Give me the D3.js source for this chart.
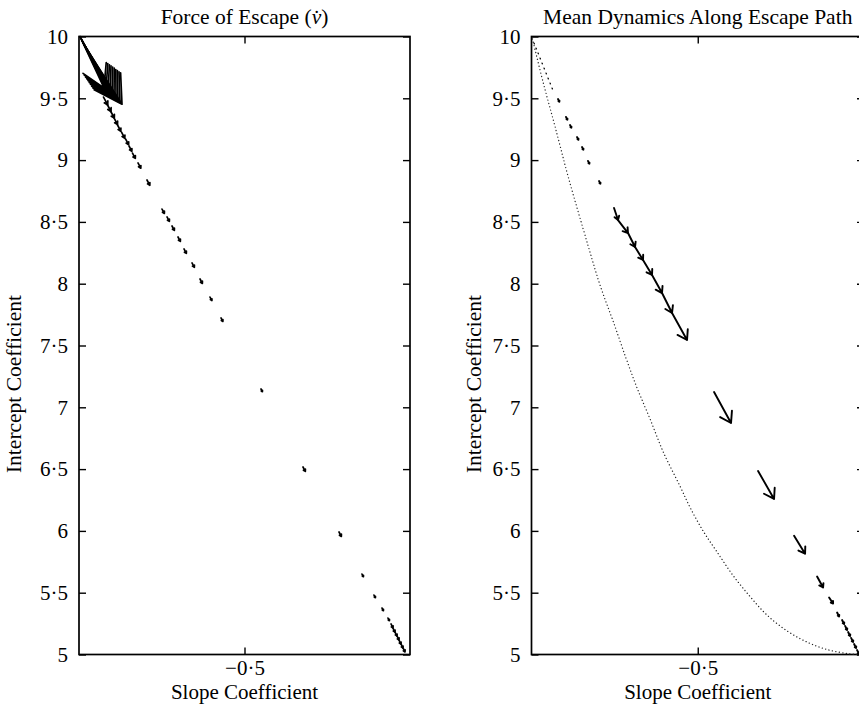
<!DOCTYPE html>
<html>
<head>
<meta charset="utf-8">
<script src="https://cdn.jsdelivr.net/npm/d3@7"></script>
<style>
  html, body { margin: 0; padding: 0; background: #fff; }
  svg { display: block; font-family: "Liberation Serif", "Times New Roman", serif; }
</style>
</head>
<body>
<svg id="chart" width="859" height="704"></svg>
<script>
// ---- axes ----
const slopeDomain = [-1, 0];
const interceptDomain = [5, 10];
const slopeTicks = [-0.5];
const interceptTicks = [5, 5.5, 6, 6.5, 7, 7.5, 8, 8.5, 9, 9.5, 10];

// ---- Force of escape (v-dot): arrow bases on the escape path and force vectors ----
const forceSlope = [
  -0.9970, -0.9955, -0.9940, -0.9925, -0.9909, -0.9894, -0.9879, -0.9864, -0.9849, -0.9834,
  -0.9260, -0.9154, -0.9048, -0.8943, -0.8837, -0.8716, -0.8595, -0.8489, -0.8384,
  -0.8218, -0.7946, -0.7492, -0.7341, -0.7190, -0.7009, -0.6828, -0.6586, -0.6344,
  -0.6042, -0.5710, -0.4502, -0.3233, -0.2145, -0.1450, -0.1088, -0.0846, -0.0665,
  -0.0574, -0.0514, -0.0453, -0.0393, -0.0332, -0.0272, -0.0211
];
const forceIntercept = [
  10.000, 9.992, 9.984, 9.976, 9.968, 9.960, 9.951, 9.943, 9.935, 9.927,
  9.510, 9.454, 9.397, 9.341, 9.284, 9.227, 9.171, 9.114, 9.057,
  8.977, 8.839, 8.604, 8.540, 8.467, 8.378, 8.281, 8.168, 8.038,
  7.892, 7.723, 7.148, 6.517, 5.991, 5.651, 5.481, 5.376, 5.295,
  5.247, 5.214, 5.182, 5.150, 5.117, 5.085, 5.053
];
const forceDSlope = [
  0.0725, 0.0770, 0.0816, 0.0861, 0.0906, 0.0952, 0.0997, 0.1042, 0.1088, 0.1133,
  0.0127, 0.0121, 0.0115, 0.0106, 0.0100, 0.0100, 0.0094, 0.0085, 0.0085,
  0.0085, 0.0085, 0.0071, 0.0071, 0.0071, 0.0071, 0.0071, 0.0071, 0.0071,
  0.0057, 0.0057, 0.0043, 0.0071, 0.0071, 0.0043, 0.0043, 0.0043, 0.0043,
  0.0060, 0.0060, 0.0060, 0.0060, 0.0060, 0.0060, 0.0060
];
const forceDIntercept = [
  -0.4167, -0.4231, -0.4296, -0.4361, -0.4426, -0.4490, -0.4555, -0.4620, -0.4684, -0.4749,
  -0.0639, -0.0607, -0.0566, -0.0534, -0.0502, -0.0502, -0.0461, -0.0429, -0.0429,
  -0.0427, -0.0427, -0.0356, -0.0356, -0.0356, -0.0356, -0.0356, -0.0356, -0.0356,
  -0.0285, -0.0285, -0.0214, -0.0356, -0.0356, -0.0214, -0.0214, -0.0214, -0.0214,
  -0.0324, -0.0324, -0.0324, -0.0324, -0.0324, -0.0324, -0.0324
];

// ---- Mean dynamics along the escape path ----
const meanSlope = [
  -0.9925, -0.9865, -0.9804, -0.9744, -0.9684, -0.9624, -0.9564, -0.9504, -0.9443, -0.9383,
  -0.9203, -0.8962, -0.8842, -0.8631, -0.8481, -0.8300, -0.7969,
  -0.7518, -0.7398, -0.7097, -0.6886, -0.6646, -0.6375, -0.6074, -0.5773,
  -0.4510, -0.3186, -0.2103, -0.1411, -0.1050, -0.0809,
  -0.0659, -0.0568, -0.0478, -0.0388, -0.0298, -0.0208
];
const meanIntercept = [
  9.947, 9.907, 9.867, 9.826, 9.786, 9.745, 9.705, 9.664, 9.624, 9.583,
  9.494, 9.349, 9.284, 9.186, 9.106, 8.993, 8.831,
  8.613, 8.515, 8.410, 8.297, 8.192, 8.070, 7.925, 7.763,
  7.124, 6.485, 5.961, 5.631, 5.461, 5.340,
  5.279, 5.231, 5.182, 5.134, 5.085, 5.036
];
const meanDSlope = [
  0.0012, 0.0012, 0.0012, 0.0012, 0.0012, 0.0012, 0.0012, 0.0012, 0.0012, 0.0012,
  0.0041, 0.0041, 0.0041, 0.0041, 0.0041, 0.0041, 0.0041,
  0.0120, 0.0301, 0.0211, 0.0241, 0.0271, 0.0301, 0.0301, 0.0451,
  0.0511, 0.0481, 0.0331, 0.0181, 0.0120, 0.0060,
  0.0060, 0.0060, 0.0060, 0.0060, 0.0060, 0.0060
];
const meanDIntercept = [
  -0.0074, -0.0074, -0.0074, -0.0074, -0.0074, -0.0074, -0.0074, -0.0074, -0.0074, -0.0074,
  -0.0216, -0.0216, -0.0216, -0.0216, -0.0216, -0.0216, -0.0216,
  -0.0971, -0.1052, -0.1133, -0.1052, -0.1214, -0.1456, -0.1618, -0.2184,
  -0.2508, -0.2265, -0.1456, -0.0890, -0.0485, -0.0324,
  -0.0324, -0.0324, -0.0324, -0.0324, -0.0324, -0.0324
];

// ---- Mean dynamics trajectory from the starting belief (dotted curve) ----
const trajSlope = [
  -0.997, -0.965, -0.929, -0.887, -0.830, -0.794, -0.755, -0.716, -0.683, -0.644,
  -0.604, -0.553, -0.523, -0.484, -0.442, -0.394, -0.343, -0.292, -0.231, -0.171,
  -0.111, -0.042, -0.021
];
const trajIntercept = [
  9.98, 9.63, 9.27, 8.84, 8.31, 7.99, 7.70, 7.40, 7.16, 6.91,
  6.64, 6.36, 6.19, 6.00, 5.83, 5.64, 5.47, 5.32, 5.19, 5.10,
  5.04, 5.005, 5.00
];

// ---- layout ----
const svg = d3.select("#chart");
const yTop = 36.5, yBottom = 654.5;
const FONT = "'Liberation Serif', 'Times New Roman', serif";
const panels = [
  { x0: 79, x1: 410, labelOffset: 58, headRatio: 0.45, headAngle: 30, width: 1.7 },
  { x0: 531.5, x1: 864, labelOffset: 51, headRatio: 0.35, headAngle: 33, width: 1.9 }
];

function fmt(d) {
  const s = Number.isInteger(d) ? String(Math.abs(d)) : String(Math.abs(d)).replace(".", "\u00B7");
  return d < 0 ? "\u2212" + s : s;
}

function arrowPath(x, y, bx, by, dx, dy, ratio, angleDeg) {
  const p0 = [x(bx), y(by)];
  const p1 = [x(bx + dx), y(by + dy)];
  const vx = p1[0] - p0[0], vy = p1[1] - p0[1];
  const L = Math.hypot(vx, vy);
  const back = Math.atan2(-vy, -vx);
  const h = L * ratio, a = angleDeg * Math.PI / 180;
  const b1 = [p1[0] + h * Math.cos(back + a), p1[1] + h * Math.sin(back + a)];
  const b2 = [p1[0] + h * Math.cos(back - a), p1[1] + h * Math.sin(back - a)];
  return `M${p0[0]},${p0[1]}L${p1[0]},${p1[1]}M${b1[0]},${b1[1]}L${p1[0]},${p1[1]}L${b2[0]},${b2[1]}`;
}

function drawPanel(p, titleNode) {
  const g = svg.append("g");
  const x = d3.scaleLinear().domain(slopeDomain).range([p.x0, p.x1]);
  const y = d3.scaleLinear().domain(interceptDomain).range([yBottom, yTop]);
  const cx = (p.x0 + p.x1) / 2;

  // axes with inward ticks on all four sides
  const left = g.append("g").attr("transform", `translate(${p.x0},0)`)
    .call(d3.axisLeft(y).tickValues(interceptTicks).tickFormat(fmt).tickSize(-7).tickPadding(11));
  const right = g.append("g").attr("transform", `translate(${p.x1},0)`)
    .call(d3.axisRight(y).tickValues(interceptTicks).tickFormat("").tickSize(-7));
  const bottom = g.append("g").attr("transform", `translate(0,${yBottom})`)
    .call(d3.axisBottom(x).tickValues(slopeTicks).tickFormat(fmt).tickSize(-7).tickPadding(6));
  const top = g.append("g").attr("transform", `translate(0,${yTop})`)
    .call(d3.axisTop(x).tickValues(slopeTicks).tickFormat("").tickSize(-7));
  [left, right, bottom, top].forEach(a => {
    a.select(".domain").remove();
    a.selectAll("line").attr("stroke", "#000").attr("stroke-width", 1.4);
    a.selectAll("text").attr("fill", "#000").style("font-size", "21px").style("font-family", FONT);
  });

  g.append("rect")
    .attr("x", p.x0).attr("y", yTop)
    .attr("width", p.x1 - p.x0).attr("height", yBottom - yTop)
    .attr("fill", "none").attr("stroke", "#000").attr("stroke-width", 1.7);

  // labels
  g.append("text").attr("x", cx).attr("y", 698.5).attr("text-anchor", "middle")
    .style("font-size", "21px").text("Slope Coefficient");
  g.append("text").attr("transform", `translate(${p.x0 - p.labelOffset},384) rotate(-90)`)
    .attr("text-anchor", "middle").style("font-size", "21.5px").text("Intercept Coefficient");
  titleNode(g.append("text").attr("x", cx).attr("y", 24).attr("text-anchor", "middle").style("font-size", "21.5px"));

  return { g, x, y };
}

// Left panel: force of escape
{
  const p = panels[0];
  const { g, x, y } = drawPanel(p, t => {
    t.append("tspan").text("Force of Escape (");
    t.append("tspan").style("font-style", "italic").text("v\u0307");
    t.append("tspan").text(")");
  });
  g.append("g").selectAll("path").data(d3.range(forceSlope.length)).join("path")
    .attr("d", i => arrowPath(x, y, forceSlope[i], forceIntercept[i], forceDSlope[i], forceDIntercept[i], p.headRatio, p.headAngle))
    .attr("fill", "none").attr("stroke", "#000").attr("stroke-width", p.width)
    .attr("stroke-linecap", "round").attr("stroke-linejoin", "round");
}

// Right panel: mean dynamics along the escape path
{
  const p = panels[1];
  const { g, x, y } = drawPanel(p, t => t.text("Mean Dynamics Along Escape Path"));
  const line = d3.line().x((d, i) => x(trajSlope[i])).y((d, i) => y(trajIntercept[i])).curve(d3.curveCatmullRom.alpha(0.5));
  g.append("path").datum(trajSlope).attr("d", line)
    .attr("fill", "none").attr("stroke", "#222").attr("stroke-width", 1.3)
    .attr("stroke-dasharray", "0.1 3.4").attr("stroke-linecap", "round");
  g.append("g").selectAll("path").data(d3.range(meanSlope.length)).join("path")
    .attr("d", i => arrowPath(x, y, meanSlope[i], meanIntercept[i], meanDSlope[i], meanDIntercept[i], p.headRatio, p.headAngle))
    .attr("fill", "none").attr("stroke", "#000")
    .attr("stroke-width", i => i < 10 ? 1.1 : p.width)
    .attr("stroke-linecap", "round").attr("stroke-linejoin", "round");
}
</script>
</body>
</html>
